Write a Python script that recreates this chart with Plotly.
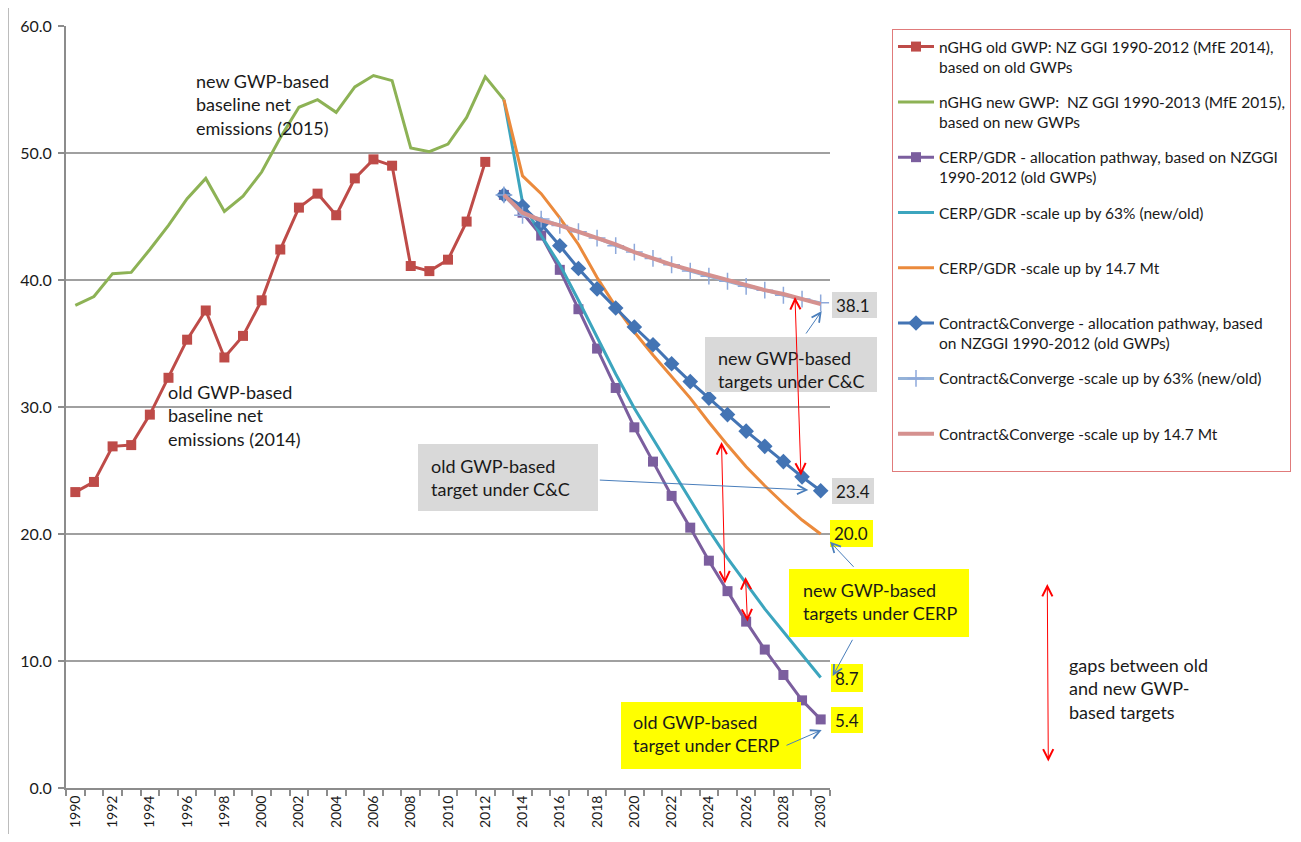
import plotly.graph_objects as go

# ---------------- data ----------------
years_hist_old = list(range(1990, 2013))
years_hist_new = list(range(1990, 2014))
years_proj = list(range(2013, 2031))

ghg_old = [23.3, 24.1, 26.9, 27.0, 29.4, 32.3, 35.3, 37.6, 33.9, 35.6, 38.4, 42.4,
           45.7, 46.8, 45.1, 48.0, 49.5, 49.0, 41.1, 40.7, 41.6, 44.6, 49.3]
ghg_new = [38.0, 38.7, 40.5, 40.6, 42.4, 44.3, 46.4, 48.0, 45.4, 46.6, 48.5, 51.2,
           53.6, 54.2, 53.2, 55.2, 56.1, 55.7, 50.4, 50.1, 50.7, 52.8, 56.0, 54.2]
cerp_alloc = [46.7, 45.3, 43.5, 40.8, 37.7, 34.6, 31.5, 28.4, 25.7, 23.0, 20.5, 17.9,
              15.5, 13.1, 10.9, 8.9, 6.9, 5.4]
cerp_63 = [54.2, 46.1, 43.5, 41.2, 38.4, 35.5, 32.6, 29.9, 27.5, 25.1, 22.7, 20.3,
           18.1, 16.1, 14.1, 12.3, 10.5, 8.7]
cerp_147 = [54.2, 48.2, 46.8, 44.9, 42.8, 40.2, 37.9, 35.9, 34.1, 32.4, 30.7, 28.8,
            27.0, 25.3, 23.8, 22.4, 21.1, 20.0]
cc_alloc = [46.7, 45.8, 44.4, 42.7, 40.9, 39.3, 37.8, 36.3, 34.9, 33.4, 32.0, 30.7,
            29.4, 28.1, 26.9, 25.7, 24.5, 23.4]
cc_63 = [46.7, 45.1, 44.8, 44.3, 43.8, 43.3, 42.7, 42.2, 41.7, 41.2, 40.7, 40.3,
         39.9, 39.5, 39.2, 38.8, 38.5, 38.2]
cc_147 = [46.7, 45.3, 44.7, 44.3, 43.8, 43.3, 42.8, 42.2, 41.7, 41.2, 40.8, 40.4,
          40.0, 39.6, 39.2, 38.9, 38.5, 38.1]

names = [
    "nGHG old GWP: NZ GGI 1990-2012 (MfE 2014),<br>based on old GWPs",
    "nGHG new GWP:  NZ GGI 1990-2013 (MfE 2015),<br>based on new GWPs",
    "CERP/GDR - allocation pathway, based on NZGGI<br>1990-2012 (old GWPs)",
    "CERP/GDR -scale up by 63% (new/old)<br> ",
    "CERP/GDR -scale up by 14.7 Mt<br> ",
    "Contract&Converge - allocation pathway, based<br>on NZGGI 1990-2012 (old GWPs)",
    "Contract&Converge -scale up by 63% (new/old)<br> ",
    "Contract&Converge -scale up by 14.7 Mt<br> ",
]

xtick_vals = list(range(1990, 2031, 2))
ytick_vals = [0, 10, 20, 30, 40, 50, 60]

# ---------------- layout helpers (screen pixel -> paper) ----------------
OFF = 8                      # browser body margin
W, H = 1301 - 2 * OFF, 842 - 2 * OFF
L, R, T, B = 66, 830, 26, 788  # plot area in screen pixels
def xp(px):
    return (px - L) / (R - L)
def yp(py):
    return (B - py) / (B - T)

FONT = "Lato, 'Open Sans', sans-serif"

fig = go.Figure()

def add(x, y, name, color, width=3, mode="lines", marker=None):
    fig.add_trace(go.Scatter(x=x, y=y, name=name, mode=mode,
                             line=dict(color=color, width=width),
                             marker=marker, legendgroup=name))

add(years_hist_old, ghg_old, names[0], "#BE4B48", mode="lines+markers",
    marker=dict(symbol="square", size=10, color="#BE4B48"))
add(years_hist_new, ghg_new, names[1], "#8DB255")
add(years_proj, cerp_alloc, names[2], "#7B5E9E", mode="lines+markers",
    marker=dict(symbol="square", size=10, color="#7B5E9E"))
add(years_proj, cerp_63, names[3], "#3CA5BE")
add(years_proj, cerp_147, names[4], "#EB8A3C")
add(years_proj, cc_alloc, names[5], "#4374B4", mode="lines+markers",
    marker=dict(symbol="diamond", size=12, color="#4374B4"))
add(years_proj, cc_63, names[6], "#94B2D8", mode="lines+markers",
    marker=dict(symbol="cross-thin", size=12, color="#8EA9DB",
                line=dict(width=1.5, color="#8EA9DB")))
add(years_proj, cc_147, names[7], "#D5918F", width=4)

# ---------------- boxes ----------------
shapes = []
def rect(x0, y0, x1, y1, color):
    shapes.append(dict(type="rect", xref="paper", yref="paper",
                       x0=xp(x0), x1=xp(x1), y0=yp(y1), y1=yp(y0),
                       fillcolor=color, line=dict(width=0), layer="above"))

GREY = "#D9D9D9"
YEL = "#FFFF00"
rect(832, 292, 877, 318, GREY)
rect(832, 478, 874, 504, GREY)
rect(830, 520, 873, 547, YEL)
rect(831, 664, 863, 692, YEL)
rect(831, 707, 863, 733, YEL)
rect(705, 337, 877, 392, GREY)
rect(418, 444, 598, 511, GREY)
rect(789, 569, 969, 637, YEL)
rect(621, 702, 801, 769, YEL)
# outer chart border
shapes.append(dict(type="rect", xref="paper", yref="paper",
                   x0=xp(8), x1=xp(1295), y0=yp(850), y1=yp(7),
                   line=dict(color="#A6A6A6", width=1.5), fillcolor="rgba(0,0,0,0)",
                   layer="below"))

annotations = []
def text(px, py, s, size=18):
    annotations.append(dict(xref="paper", yref="paper", x=xp(px), y=yp(py),
                            xanchor="left", yanchor="middle", align="left",
                            text=s, showarrow=False,
                            font=dict(family=FONT, size=size, color="#1a1a1a")))

text(834, 305, "38.1", 17)
text(834, 491, "23.4", 17)
text(832, 533, "20.0", 17)
text(833, 678, "8.7", 17)
text(833, 720, "5.4", 17)
text(716, 369, "new GWP-based<br>targets under C&C")
text(429, 477, "old GWP-based<br>target under C&C")
text(801, 601, "new GWP-based<br>targets under CERP")
text(631, 733, "old GWP-based<br>target under CERP")
text(194, 104, "new GWP-based<br>baseline net<br>emissions (2015)")
text(166, 415, "old GWP-based<br>baseline net<br>emissions (2014)")
text(1067, 688, "gaps between old<br>and new GWP-<br>based targets")

def arrow(hx, hy, tx, ty, color, double=False, size=1.8):
    annotations.append(dict(xref="paper", yref="paper", x=xp(hx), y=yp(hy),
                            ax=tx - hx, ay=ty - hy, axref="pixel", ayref="pixel",
                            text="", showarrow=True, arrowhead=5, startarrowhead=5,
                            arrowside="end+start" if double else "end",
                            arrowsize=size, startarrowsize=size, arrowwidth=1,
                            arrowcolor=color, standoff=0, startstandoff=0))

RED = "#FF0000"
BLU = "#4A7EBB"
arrow(795, 297, 801, 477, RED, True, 2)
arrow(721.5, 442, 725, 585, RED, True, 2)
arrow(745.5, 577, 747.5, 623, RED, True, 2)
arrow(1047.3, 584, 1048.3, 763, RED, True, 2)
arrow(821.7, 311, 805, 335, BLU)
arrow(808.3, 490, 598.3, 480, BLU)
arrow(830, 541.7, 855, 568.3, BLU)
arrow(832.7, 676, 853.3, 638.3, BLU)
arrow(821.7, 730, 785, 746, BLU)

fig.update_layout(
    width=W, height=H,
    margin=dict(l=L - OFF, r=W - (R - OFF), t=T - OFF, b=H - (B - OFF),
                autoexpand=False),
    paper_bgcolor="white", plot_bgcolor="white",
    font=dict(family=FONT, color="#1a1a1a"),
    shapes=shapes, annotations=annotations,
    showlegend=True,
    legend=dict(x=xp(892), y=yp(29), xanchor="left", yanchor="top",
                bordercolor="#E07B7B", borderwidth=1, bgcolor="white",
                font=dict(family=FONT, size=15.5, color="#1a1a1a"),
                itemwidth=36, valign="top", traceorder="grouped",
                tracegroupgap=12),
    xaxis=dict(range=[1989.5, 2030.5], tickvals=xtick_vals,
               ticktext=[str(v) for v in xtick_vals], tickangle=-90,
               ticks="", showgrid=False, zeroline=False, automargin=False,
               showline=True, linecolor="#8C8C8C", linewidth=2,
               tickfont=dict(family=FONT, size=14, color="#1a1a1a"),
               minor=dict(tick0=1989.5, dtick=1, ticks="outside", ticklen=6,
                          tickcolor="#8C8C8C", tickwidth=1.5, showgrid=False)),
    yaxis=dict(range=[0, 60], tickvals=ytick_vals,
               ticktext=[f"{v:.1f}" for v in ytick_vals],
               showgrid=True, gridcolor="#A0A0A0", gridwidth=1.5, zeroline=False,
               showline=True, linecolor="#8C8C8C", linewidth=2, automargin=False,
               ticks="outside", ticklen=6, tickcolor="#8C8C8C", tickwidth=1.5,
               ticklabelstandoff=3,
               tickfont=dict(family=FONT, size=16, color="#1a1a1a")),
)

fig.write_html("out.html")
